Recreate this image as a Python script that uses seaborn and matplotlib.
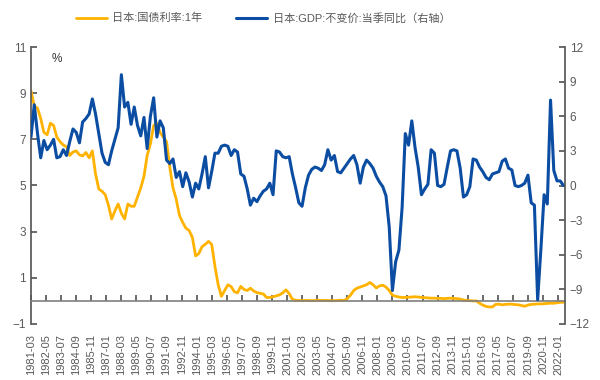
import matplotlib
matplotlib.use("Agg")
import matplotlib.pyplot as plt
import matplotlib.dates as mdates
import matplotlib.ticker as mticker
import seaborn as sns
import pandas as pd
import numpy as np

# ---------------- data (quarterly, 1981-03 .. 2022-06) ----------------
start_date = "1981-03-01"
n_quarters = 166

rate_1y = [
    9.1, 8.45, 8.35, 7.9, 7.3, 7.2, 7.7, 7.6, 7.1, 6.9,
    6.75, 6.68, 6.3, 6.45, 6.5, 6.33, 6.28, 6.43, 6.2, 6.5,
    5.5, 4.85, 4.75, 4.6, 4.15, 3.55, 3.9, 4.2, 3.8, 3.55,
    4.2, 4.1, 4.1, 4.5, 4.9, 5.4, 6.3, 6.8, 7.6, 7.7,
    7.3, 7.1, 6.9, 5.8, 4.9, 4.4, 3.7, 3.4, 3.15, 3.05,
    2.75, 1.95, 2.05, 2.35, 2.45, 2.58, 2.45, 1.5, 0.7, 0.2,
    0.45, 0.7, 0.62, 0.4, 0.35, 0.63, 0.5, 0.45, 0.55, 0.43,
    0.36, 0.33, 0.3, 0.15, 0.15, 0.18, 0.22, 0.26, 0.35, 0.48,
    0.32, 0.07, 0.03, 0.02, 0.01, 0.02, 0.02, 0.01, 0.02, 0.03,
    0.02, 0.02, 0.02, 0.01, 0.01, 0.02, 0.03, 0.02, 0.1, 0.25,
    0.45, 0.55, 0.6, 0.65, 0.7, 0.8, 0.7, 0.56, 0.65, 0.68,
    0.6, 0.45, 0.25, 0.2, 0.17, 0.15, 0.15, 0.16, 0.17, 0.18,
    0.17, 0.15, 0.14, 0.13, 0.12, 0.12, 0.11, 0.11, 0.1, 0.11,
    0.12, 0.11, 0.1, 0.08, 0.04, 0.02, 0.01, 0.0, 0.0, -0.1,
    -0.18, -0.24, -0.26, -0.26, -0.15, -0.14, -0.17, -0.15, -0.14, -0.14,
    -0.16, -0.17, -0.2, -0.23, -0.18, -0.15, -0.14, -0.13, -0.13, -0.12,
    -0.11, -0.1, -0.1, -0.08, -0.06, -0.06,
]

gdp_yoy = [
    4.2, 7.0, 4.5, 2.4, 3.9, 3.1, 3.5, 4.0, 2.4, 2.5,
    3.1, 2.6, 3.8, 4.9, 4.6, 3.7, 5.5, 5.8, 6.2, 7.5,
    6.2, 4.5, 2.8, 2.0, 1.8, 3.0, 4.0, 5.0, 9.6, 6.8,
    7.2, 5.3, 6.8, 5.2, 4.3, 5.9, 3.2, 6.0, 7.6, 4.2,
    5.6, 5.0, 2.2, 1.9, 2.3, 0.7, 1.2, -0.1, 1.1, 0.3,
    -1.0, 0.2, -0.3, 1.0, 2.5, -0.2, 1.2, 2.8, 2.8, 3.4,
    3.5, 3.4, 2.6, 3.1, 2.9, 1.0, 0.8, -0.3, -1.7, -1.1,
    -1.4, -0.9, -0.5, -0.3, 0.2, -0.8, 3.0, 2.9, 2.5, 2.4,
    2.5, 1.0, -0.2, -1.5, -1.8, -0.2, 0.9, 1.4, 1.6, 1.5,
    1.3, 1.8, 3.1, 2.2, 2.6, 1.2, 1.1, 1.5, 1.9, 2.3,
    2.6, 1.8, 0.2, 1.6, 2.2, 1.9, 1.5, 0.8, 0.3, -0.1,
    -0.9, -3.6, -9.1, -6.6, -5.6, -1.9, 4.5, 3.5, 5.6, 3.3,
    1.6, -0.8, -0.3, 0.1, 3.1, 2.8, 0.0, -0.1, 0.1, 1.6,
    3.0, 3.1, 3.0, 1.5, -1.0, -0.8, -0.1, 2.3, 2.2, 1.6,
    1.2, 0.7, 0.5, 1.0, 1.1, 1.2, 2.1, 2.3, 1.5, 1.35,
    0.0, -0.1, 0.0, 0.2, 0.9, -1.5, -1.7, -9.9, -5.5, -0.8,
    -1.6, 7.4, 1.3, 0.4, 0.4, 0.0,
]

label_rate = "日本:国债利率:1年"
label_gdp = "日本:GDP:不变价:当季同比（右轴）"
left_ticks = [-1, 1, 3, 5, 7, 9, 11]
right_ticks = [-12, -9, -6, -3, 0, 3, 6, 9, 12]
xtick_first = "1981-03-01"
xtick_count = 36
xtick_step = "14MS"

# ---------------- styling ----------------
sns.set_theme(style="white")
plt.rcParams["font.family"] = ["Liberation Sans", "Noto Sans CJK SC", "DejaVu Sans"]

c_rate = "#FFB300"
c_gdp = "#0B4DA2"
grey = "#595959"

dates = pd.date_range(start_date, periods=n_quarters, freq="3MS")
df = pd.DataFrame({"date": dates, "rate": rate_1y[:n_quarters], "gdp": gdp_yoy[:n_quarters]})

fig = plt.figure(figsize=(6, 3.8), dpi=100)
ax = fig.add_axes([31 / 600, 1 - 324 / 380, (565 - 31) / 600, (324 - 47) / 380])
ax2 = ax.twinx()

sns.lineplot(data=df, x="date", y="rate", ax=ax, color=c_rate, lw=2.0, label=label_rate, legend=False)
sns.lineplot(data=df, x="date", y="gdp", ax=ax2, color=c_gdp, lw=2.2, label=label_gdp, legend=False)

ax.set_ylim(-1, 11)
ax2.set_ylim(-12, 12)
ax.set_yticks(left_ticks)
ax2.set_yticks(right_ticks)
ax.set_xlim(pd.Timestamp(start_date), pd.Timestamp("2022-07-15"))

xt = pd.date_range(xtick_first, periods=xtick_count, freq=xtick_step)
ax.xaxis.set_major_locator(mticker.FixedLocator(mdates.date2num(xt.to_pydatetime())))
ax.xaxis.set_major_formatter(mdates.DateFormatter("%Y-%m"))

for a in (ax, ax2):
    a.set_xlabel("")
    a.set_ylabel("")
    a.grid(False)
    a.spines["top"].set_visible(False)

ax.spines["bottom"].set_position(("data", 0))
ax.spines["bottom"].set_color("#7F7F7F")
ax.spines["bottom"].set_linewidth(1.2)
ax.spines["left"].set_color(grey)
ax.spines["right"].set_visible(False)
ax2.spines["bottom"].set_visible(False)
ax2.spines["left"].set_visible(False)
ax2.spines["right"].set_color(grey)

ax.tick_params(axis="x", direction="in", length=4, color=grey, pad=24, bottom=True,
               labelrotation=90, labelsize=8, labelcolor=grey)
ax.tick_params(axis="y", direction="in", length=4, color=grey, labelsize=8.5, labelcolor=grey, left=True)
ax2.tick_params(axis="y", direction="in", length=4, color=grey, labelsize=8.5, labelcolor=grey, right=True)
ax2.tick_params(axis="x", bottom=False, labelbottom=False)

ax.text(0.049, 0.955, "%", transform=ax.transAxes, fontsize=8.5, color="#333333", ha="center", va="center")

h1, l1 = ax.get_legend_handles_labels()
h2, l2 = ax2.get_legend_handles_labels()
leg = fig.legend(h1 + h2, l1 + l2, loc="center", bbox_to_anchor=(263 / 600, 1 - 18 / 380), ncol=2,
                 frameon=False, fontsize=8, handlelength=2.8, columnspacing=3.0, handletextpad=0.5)
for t in leg.get_texts():
    t.set_color(grey)

fig.savefig("out.png", dpi=100)
